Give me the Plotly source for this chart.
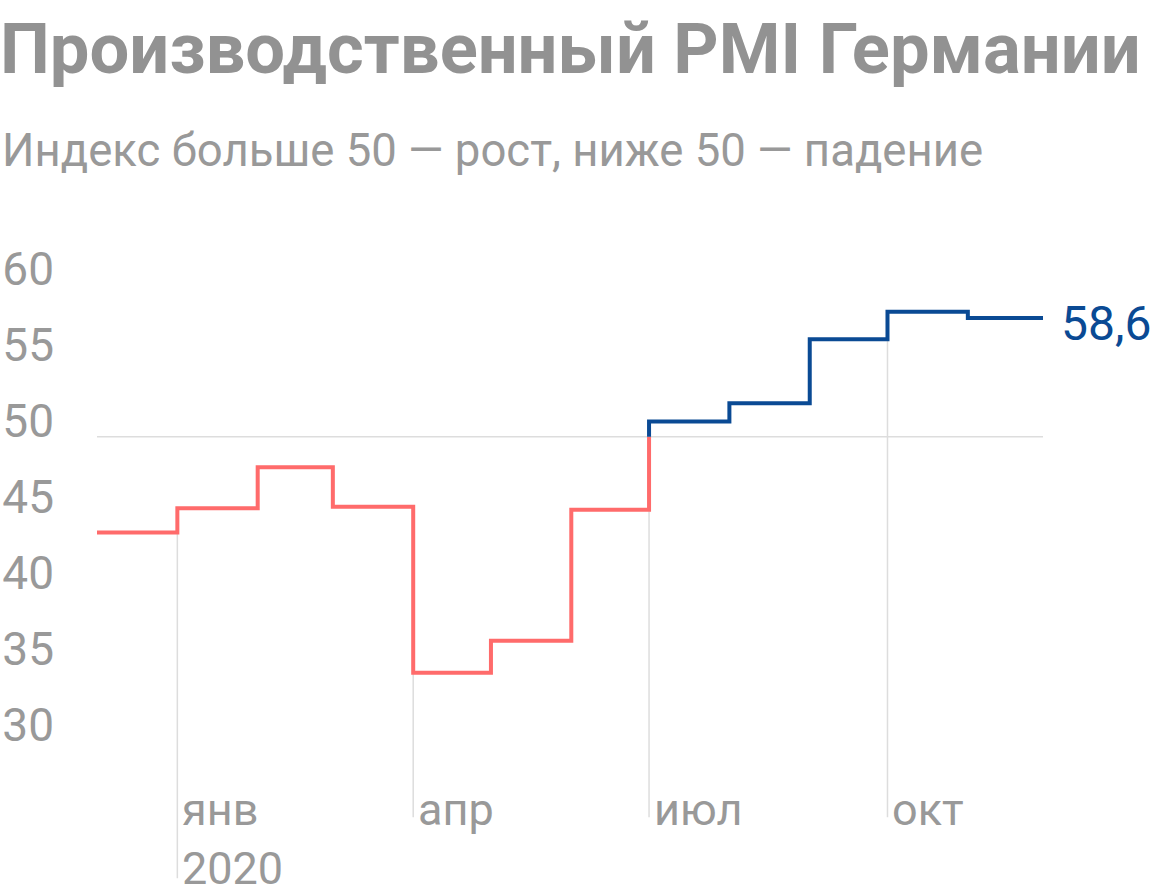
import plotly.graph_objects as go

# Данные: производственный PMI Германии, помесячно (дек 2019 - ноя 2020)
months = ["2019-12-01", "2020-01-01", "2020-02-01", "2020-03-01", "2020-04-01",
          "2020-05-01", "2020-06-01", "2020-07-01", "2020-08-01", "2020-09-01",
          "2020-10-01", "2020-11-01"]
pmi = [43.7, 45.3, 48.0, 45.4, 34.5, 36.6, 45.2, 51.0, 52.2, 56.4, 58.2, 57.8]
end_date = "2020-11-30"
last_label = "58,6"
threshold = 50

tick_dates = ["2020-01-01", "2020-04-01", "2020-07-01", "2020-10-01"]
tick_text = ["янв<br>2020", "апр", "июл", "окт"]
y_ticks = [30, 35, 40, 45, 50, 55, 60]

RED = "#ff6b6b"
BLUE = "#0a4a94"
GREY = "#999999"
GRID = "#dddddd"
FONT = "Roboto"

# split the step line where the index first crosses 50
cut = next(i for i, v in enumerate(pmi) if v >= threshold)
red_x = months[:cut] + [months[cut]]
red_y = pmi[:cut] + [threshold]
blue_x = [months[cut]] + months[cut:] + [end_date]
blue_y = [threshold] + pmi[cut:] + [pmi[-1]]

fig = go.Figure()

# vertical drop lines from the line down to the bottom
for i, d in enumerate(tick_dates):
    fig.add_shape(
        type="line", xref="x", yref="y",
        x0=d, x1=d, y0=21 if i == 0 else 25, y1=pmi[months.index(d)],
        line=dict(color=GRID, width=1.5), layer="below",
    )
fig.add_shape(
    type="line", xref="paper", yref="y", x0=0, x1=1, y0=threshold, y1=threshold,
    line=dict(color=GRID, width=1.5), layer="below",
)

fig.add_trace(go.Scatter(x=red_x, y=red_y, mode="lines", line_shape="hv",
                         line=dict(color=RED, width=4), hoverinfo="skip"))
fig.add_trace(go.Scatter(x=blue_x, y=blue_y, mode="lines", line_shape="hv",
                         line=dict(color=BLUE, width=4), hoverinfo="skip"))

for d, t in zip(tick_dates, tick_text):
    fig.add_annotation(x=d, y=0.158, xref="x", yref="paper", text=t,
                       showarrow=False, xanchor="left", yanchor="top", xshift=3,
                       align="left", font=dict(family=FONT, size=45, color=GREY))

fig.add_annotation(x=end_date, y=pmi[-1], xref="x", yref="y", text=last_label,
                   showarrow=False, xanchor="left", yanchor="middle", xshift=16, yshift=-6,
                   font=dict(family=FONT, size=48, color=BLUE))

fig.add_annotation(x=-97 / 946, y=1 + (254 - 150) / 626, xref="paper", yref="paper",
                   text="Индекс больше 50 — рост, ниже 50 — падение",
                   showarrow=False, xanchor="left", yanchor="middle", xshift=0,
                   font=dict(family=FONT, size=45.5, color=GREY))

fig.update_layout(
    width=1160, height=896,
    margin=dict(l=97, r=117, t=254, b=16),
    paper_bgcolor="white", plot_bgcolor="white",
    showlegend=False,
    title=dict(text="<b>Производственный PMI Германии</b>", x=0, xanchor="left",
               y=1 - 48 / 896, yanchor="middle", yref="container",
               font=dict(family=FONT, size=70.5, color="#929292")),
    xaxis=dict(range=[months[0], end_date], showgrid=False, showticklabels=False,
               zeroline=False, showline=False, automargin=False),
    yaxis=dict(range=[20.88, 62], tickvals=y_ticks, showgrid=False, zeroline=False,
               showline=False, automargin=False, ticklabelposition="outside",
               ticklabelstandoff=42, ticklabelshift=-16,
               tickfont=dict(family=FONT, size=46, color=GREY)),
)

fig.write_html("out.html", config={"displayModeBar": False},
               post_script="document.body.style.margin = '0';")
